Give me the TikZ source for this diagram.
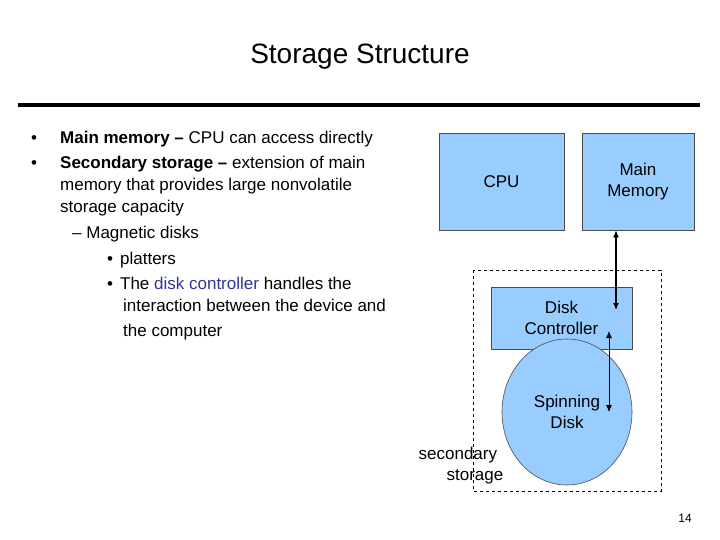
\documentclass[tikz,border=0pt]{standalone}
\usepackage{fontspec}
\setmainfont{Liberation Sans}
\usetikzlibrary{shapes.geometric,arrows.meta}
\begin{document}
\begin{tikzpicture}[x=1pt,y=-1pt,
  box/.style={draw=black!70,fill=boxc,line width=0.6pt},
  t/.style={anchor=base west,inner sep=0,font=\fontsize{17}{20}\selectfont},
  lbl/.style={align=center,font=\fontsize{17}{21}\selectfont}]
\definecolor{boxc}{HTML}{99CCFF}
\definecolor{dc}{HTML}{333399}
\useasboundingbox (0,0) rectangle (720,540);
\node[font=\fontsize{28}{32}\selectfont] (title) at (360,57) {Storage Structure};
\draw[line width=3.5pt] (18,105) -- (700,105);
% left text
\node[t] (b1) at (31,144) {•};
\node[t] (b2) at (31,169) {•};
\node[t] (l1) at (60,144) {\textbf{Main memory –} CPU can access directly};
\node[t] (l2) at (60,169) {\textbf{Secondary storage –} extension of main};
\node[t] (l3) at (60,191) {memory that provides large nonvolatile};
\node[t] (l4) at (60,213) {storage capacity};
\node[t] (l5) at (72,238) {– Magnetic disks};
\node[t] (l6) at (107,264) {•\hspace{7pt}platters};
\node[t] (l7) at (107,289) {•\hspace{7pt}The \textcolor{dc}{disk controller} handles the};
\node[t] (l8) at (123,311) {interaction between the device and};
\node[t] (l9) at (123,336) {the computer};
% diagram
\draw[dashed,line width=0.6pt] (473,270) rectangle (661,491);
\node[box,minimum width=125,minimum height=97,lbl] (cpu) at (501.5,181.5) {CPU};
\node[box,minimum width=112,minimum height=97,lbl] (mem) at (638,181.5) {Main\\Memory};
\node[box,minimum width=141,minimum height=62,lbl] (ctrl) at (561.5,318) {Disk\\Controller};
\node[box,ellipse,minimum width=130,minimum height=146,inner sep=0,lbl] (disk) at (567,412) {Spinning\\Disk};
\coordinate (a1) at (616,310);
\coordinate (a2) at (609,331);
\coordinate (a3) at (609,412);
\draw[line width=1.3pt,{Latex[length=7pt,width=6pt]}-{Latex[length=7pt,width=6pt]}] (mem.south -| a1) -- (a1);
\draw[line width=0.8pt,{Latex[length=7pt,width=6pt]}-{Latex[length=7pt,width=6pt]}] (a2) -- (a3);
\node[lbl,align=left] (sec) at (461,466) {secondary\\\hspace{28pt}storage};
\node[font=\fontsize{12}{14}\selectfont] (pg) at (685,518) {14};
\end{tikzpicture}
\end{document}
